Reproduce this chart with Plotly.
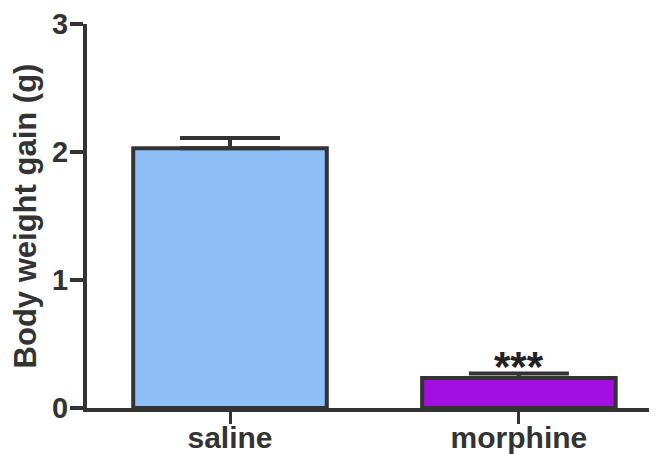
import plotly.graph_objects as go

categories = ["saline", "morphine"]
values = [2.03, 0.235]
errors = [0.08, 0.035]
bar_colors = ["#8fbff7", "#a30fe0"]
y_ticks = [0, 1, 2, 3]
significance = ["", "***"]

dark = "#333333"
font_family = "Arial, Liberation Sans, sans-serif"

fig = go.Figure()
fig.add_trace(go.Bar(
    x=categories,
    y=values,
    width=0.67,
    marker=dict(color=bar_colors, line=dict(color=dark, width=4)),
    error_y=dict(type="data", array=errors, arrayminus=[0, 0], symmetric=False,
                 color=dark, thickness=4, width=50),
))

for cat, v, e, s in zip(categories, values, errors, significance):
    if s:
        fig.add_annotation(x=cat, y=v + e, text=s, showarrow=False,
                           yanchor="bottom", yshift=-19,
                           font=dict(family=font_family, size=42, color="#222222", weight="bold"))

fig.update_layout(
    width=649, height=446,
    margin=dict(l=79, r=0, t=16, b=46),
    plot_bgcolor="white", paper_bgcolor="white",
    showlegend=False,
    font=dict(family=font_family, color=dark),
    xaxis=dict(
        range=[-0.495, 1.478], showline=True, linecolor=dark, linewidth=4,
        ticks="outside", ticklen=12, tickwidth=3, tickcolor=dark,
        ticklabelstandoff=-12,
        tickfont=dict(family=font_family, size=30, color=dark, weight="bold"),
        showgrid=False, zeroline=False, automargin=False,
    ),
    yaxis=dict(
        range=[0, 3], tickvals=y_ticks, showline=True, linecolor=dark, linewidth=4,
        ticks="outside", ticklen=13, tickwidth=4, tickcolor=dark,
        ticklabelstandoff=-4,
        tickfont=dict(family=font_family, size=29, color=dark, weight="bold"),
        title=dict(text="Body weight gain (g)", standoff=12,
                   font=dict(family=font_family, size=31, color=dark, weight="bold")),
        showgrid=False, zeroline=False, automargin=False,
    ),
)

fig.write_html("out.html")
